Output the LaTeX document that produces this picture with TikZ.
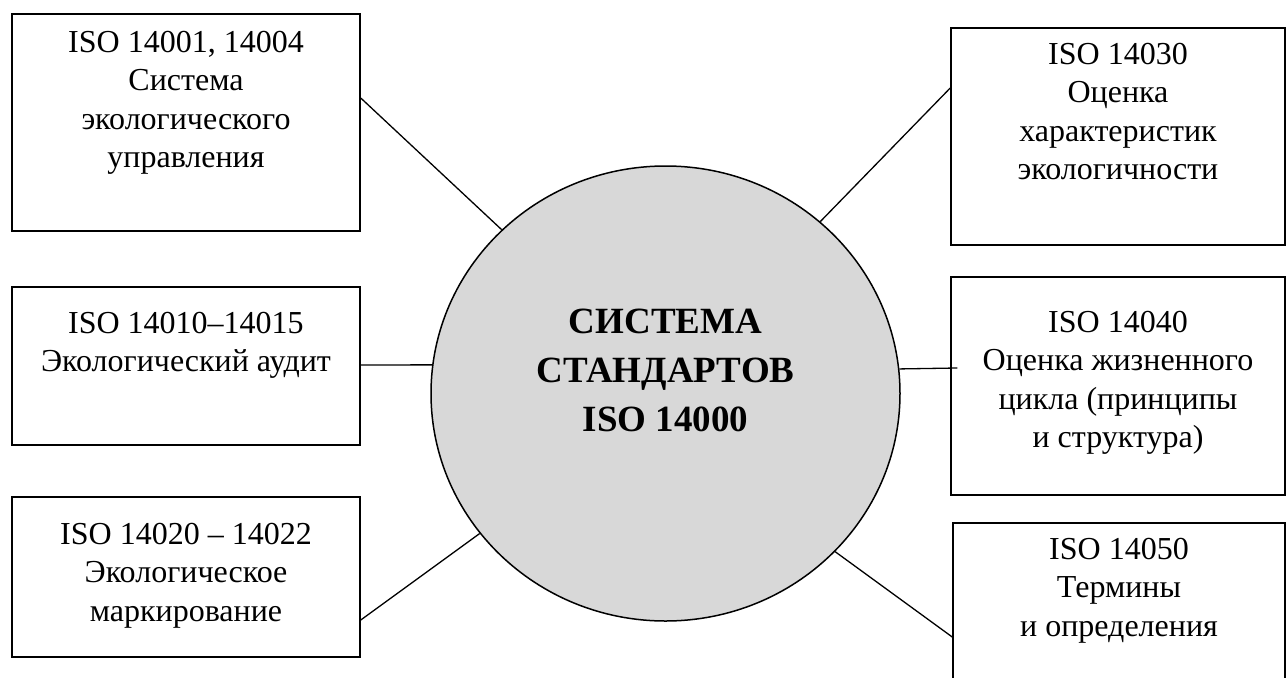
\documentclass[tikz,border=0pt]{standalone}
\usepackage{fontspec}
\setmainfont{Liberation Serif}
\usetikzlibrary{positioning,shapes.geometric}
\definecolor{corefill}{RGB}{216,216,216}

\begin{document}
\begin{tikzpicture}[x=1pt,y=-1pt,
    std box/.style={rectangle,draw,line width=1.5pt,inner sep=0pt},
    std text/.style={align=center,inner sep=0pt,font=\fontsize{32}{38.5}\selectfont},
    core node/.style={ellipse,draw,line width=1.5pt,fill=corefill,inner sep=0pt,minimum width=469pt,minimum height=455pt},
    core text/.style={align=center,inner sep=0pt,font=\fontsize{37}{49}\selectfont\bfseries}]
    \useasboundingbox (0,0) rectangle (1287,677);

    \node[core node] (sys) at (665.5,393.5) {};
    \node[core text] (systxt) [below=144pt of sys.north] {СИСТЕМА\\СТАНДАРТОВ\\ISO 14000};

    % left column
    \node[std box,minimum width=348pt,minimum height=217pt] (tl) at (186,122.5) {};
    \node[std box,minimum width=348pt,minimum height=158pt] (ml) at (186,366) {};
    \node[std box,minimum width=348pt,minimum height=160pt] (bl) at (186,577) {};

    \node[std text] (tltxt) [below=17.5pt of tl.north] {ISO 14001, 14004\\Система\\экологического\\управления};
    \node[std text] (mltxt) [below=25.5pt of ml.north] {ISO 14010–14015\\Экологический аудит};
    \node[std text] (bltxt) [below=26.5pt of bl.north] {ISO 14020 – 14022\\Экологическое\\маркирование};

    % right column
    \node[std box,minimum width=334pt,minimum height=217pt] (tr) at (1118,136.5) {};
    \node[std box,minimum width=334pt,minimum height=218pt] (mr) at (1118,386) {};
    \node[std box,minimum width=332pt,minimum height=177pt] (br) at (1119,611.5) {};

    \node[std text] (trtxt) [below=15.5pt of tr.north] {ISO 14030\\Оценка\\характеристик\\экологичности};
    \node[std text] (mrtxt) [below=34.5pt of mr.north] {ISO 14040\\Оценка жизненного\\цикла (принципы\\и структура)};
    \node[std text] (brtxt) [below=15.5pt of br.north] {ISO 14050\\Термины\\и определения};

    \path[every edge/.style={draw,line width=1.3pt}]
        ([yshift=24.5pt]tl.east) edge (sys.135)
        ([yshift=1pt]ml.east) edge (sys.173)
        ([yshift=-43pt]bl.east) edge (sys.217)
        ([yshift=48.5pt]tr.west) edge (sys.48.5)
        ([xshift=7pt,yshift=18pt]mr.west) edge (sys.6)
        ([yshift=-25.5pt]br.west) edge (sys.317.5)
    ;
\end{tikzpicture}
\end{document}
